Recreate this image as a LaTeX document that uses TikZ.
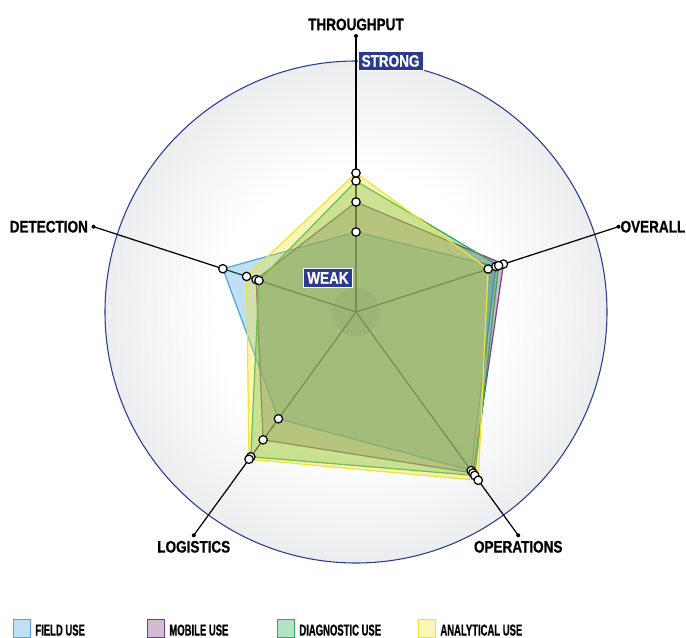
\documentclass[tikz,border=0pt]{standalone}
\usepackage{fontspec}
\setmainfont{Liberation Sans}
\newfontfamily\lblfont{Liberation Sans}[FakeStretch=0.81, BoldFeatures={FakeBold=0.7}]
\newfontfamily\legfont{Liberation Sans}[FakeStretch=0.6, BoldFeatures={FakeBold=0.6}]
\usepackage{xcolor}
\usetikzlibrary{positioning}
\definecolor{qnavy}{RGB}{43,57,144}
\definecolor{qfield}{RGB}{74,168,220}
\definecolor{qmobile}{RGB}{123,63,127}
\definecolor{qdiag}{RGB}{46,170,90}
\definecolor{qanal}{RGB}{240,228,50}
\definecolor{qrim}{RGB}{178,179,184}
\definecolor{qmid}{RGB}{236,237,239}
\pgfdeclareradialshading{ballbg}{\pgfpoint{0bp}{0bp}}{color(0bp)=(white); color(14bp)=(white); color(25bp)=(qmid); color(35.4bp)=(qrim); color(50bp)=(qrim)}

\tikzset{
  axislabel/.style={font=\lblfont\bfseries\fontsize{9.5}{11}\selectfont, inner sep=2pt},
  tagbox/.style={font=\lblfont\bfseries\fontsize{9.5}{11}\selectfont, text=white, fill=qnavy, draw=white, line width=0.4pt, inner sep=2pt},
  series/.style={draw=#1, fill=#1, fill opacity=0.35, line width=0.7pt, line join=round},
  datadot/.style={draw=black, fill=white, line width=0.7pt},
  legbox/.style={draw=#1, fill=#1!35, line width=0.6pt, minimum width=17*0.02cm, minimum height=18*0.02cm, inner sep=0pt},
  legtext/.style={font=\legfont\bfseries\fontsize{9}{10}\selectfont, inner sep=0pt}
}

\begin{document}
\begin{tikzpicture}[x=0.02cm,y=0.02cm]
\def\R{251}
\def\A{276}
\useasboundingbox (-356,-326) rectangle (330,312);

\coordinate (C) at (0,0);

%Set up:
\shade[shading=ballbg] (C) circle(\R);
\draw[qnavy, line width=0.6pt] (C) circle(\R);

\foreach \ang/\name in {90/thr,18/ove,-54/ope,-126/log,162/det}{
  \coordinate (\name) at (\ang:\A);
  \draw[line width=0.7pt] (C) -- (\name);
  \fill (\name) circle(2);
}
\fill[black, opacity=0.15] (C) circle(24);

\node[axislabel, above=1pt] at (thr) {THROUGHPUT};
\node[axislabel, right=0pt, inner sep=1pt] at (ove) {OVERALL};
\node[axislabel, left=1pt] at (det) {DETECTION};
\node[axislabel, below=1pt] at (log) {LOGISTICS};
\node[axislabel, below=1pt] at (ope) {OPERATIONS};

%Data:
\foreach \col/\a/\b/\c/\d/\e in {qfield/80/147/196/132/140, qmobile/110/155/199/158/105,
    qdiag/131/150/202/179/102, qanal/139/139/208/182/115}{
  \draw[series=\col] (90:\a) -- (18:\b) -- (-54:\c) -- (-126:\d) -- (162:\e) -- cycle;
}
\foreach \a/\b/\c/\d/\e in {80/147/196/132/140, 110/155/199/158/105,
    131/150/202/179/102, 139/139/208/182/115}{
  \foreach \p in {(90:\a),(18:\b),(-54:\c),(-126:\d),(162:\e)}
    \draw[datadot] \p circle(4.2);
}

\node[tagbox, right=1pt] (strong) at (90:\R) {STRONG};
\node[tagbox, left=2pt] (weak) at (90:34) {WEAK};

%Legend:
\foreach \x/\col/\txt [count=\i] in {-343/qfield/FIELD USE, -209/qmobile/MOBILE USE,
    -79/qdiag/DIAGNOSTIC USE, 62/qanal/ANALYTICAL USE}{
  \node[legbox=\col, anchor=north west] (key\i) at (\x,-307) {};
  \path (key\i.south east) ++(4,2.5) node[legtext, anchor=base west] {\txt};
}
\end{tikzpicture}
\end{document}
